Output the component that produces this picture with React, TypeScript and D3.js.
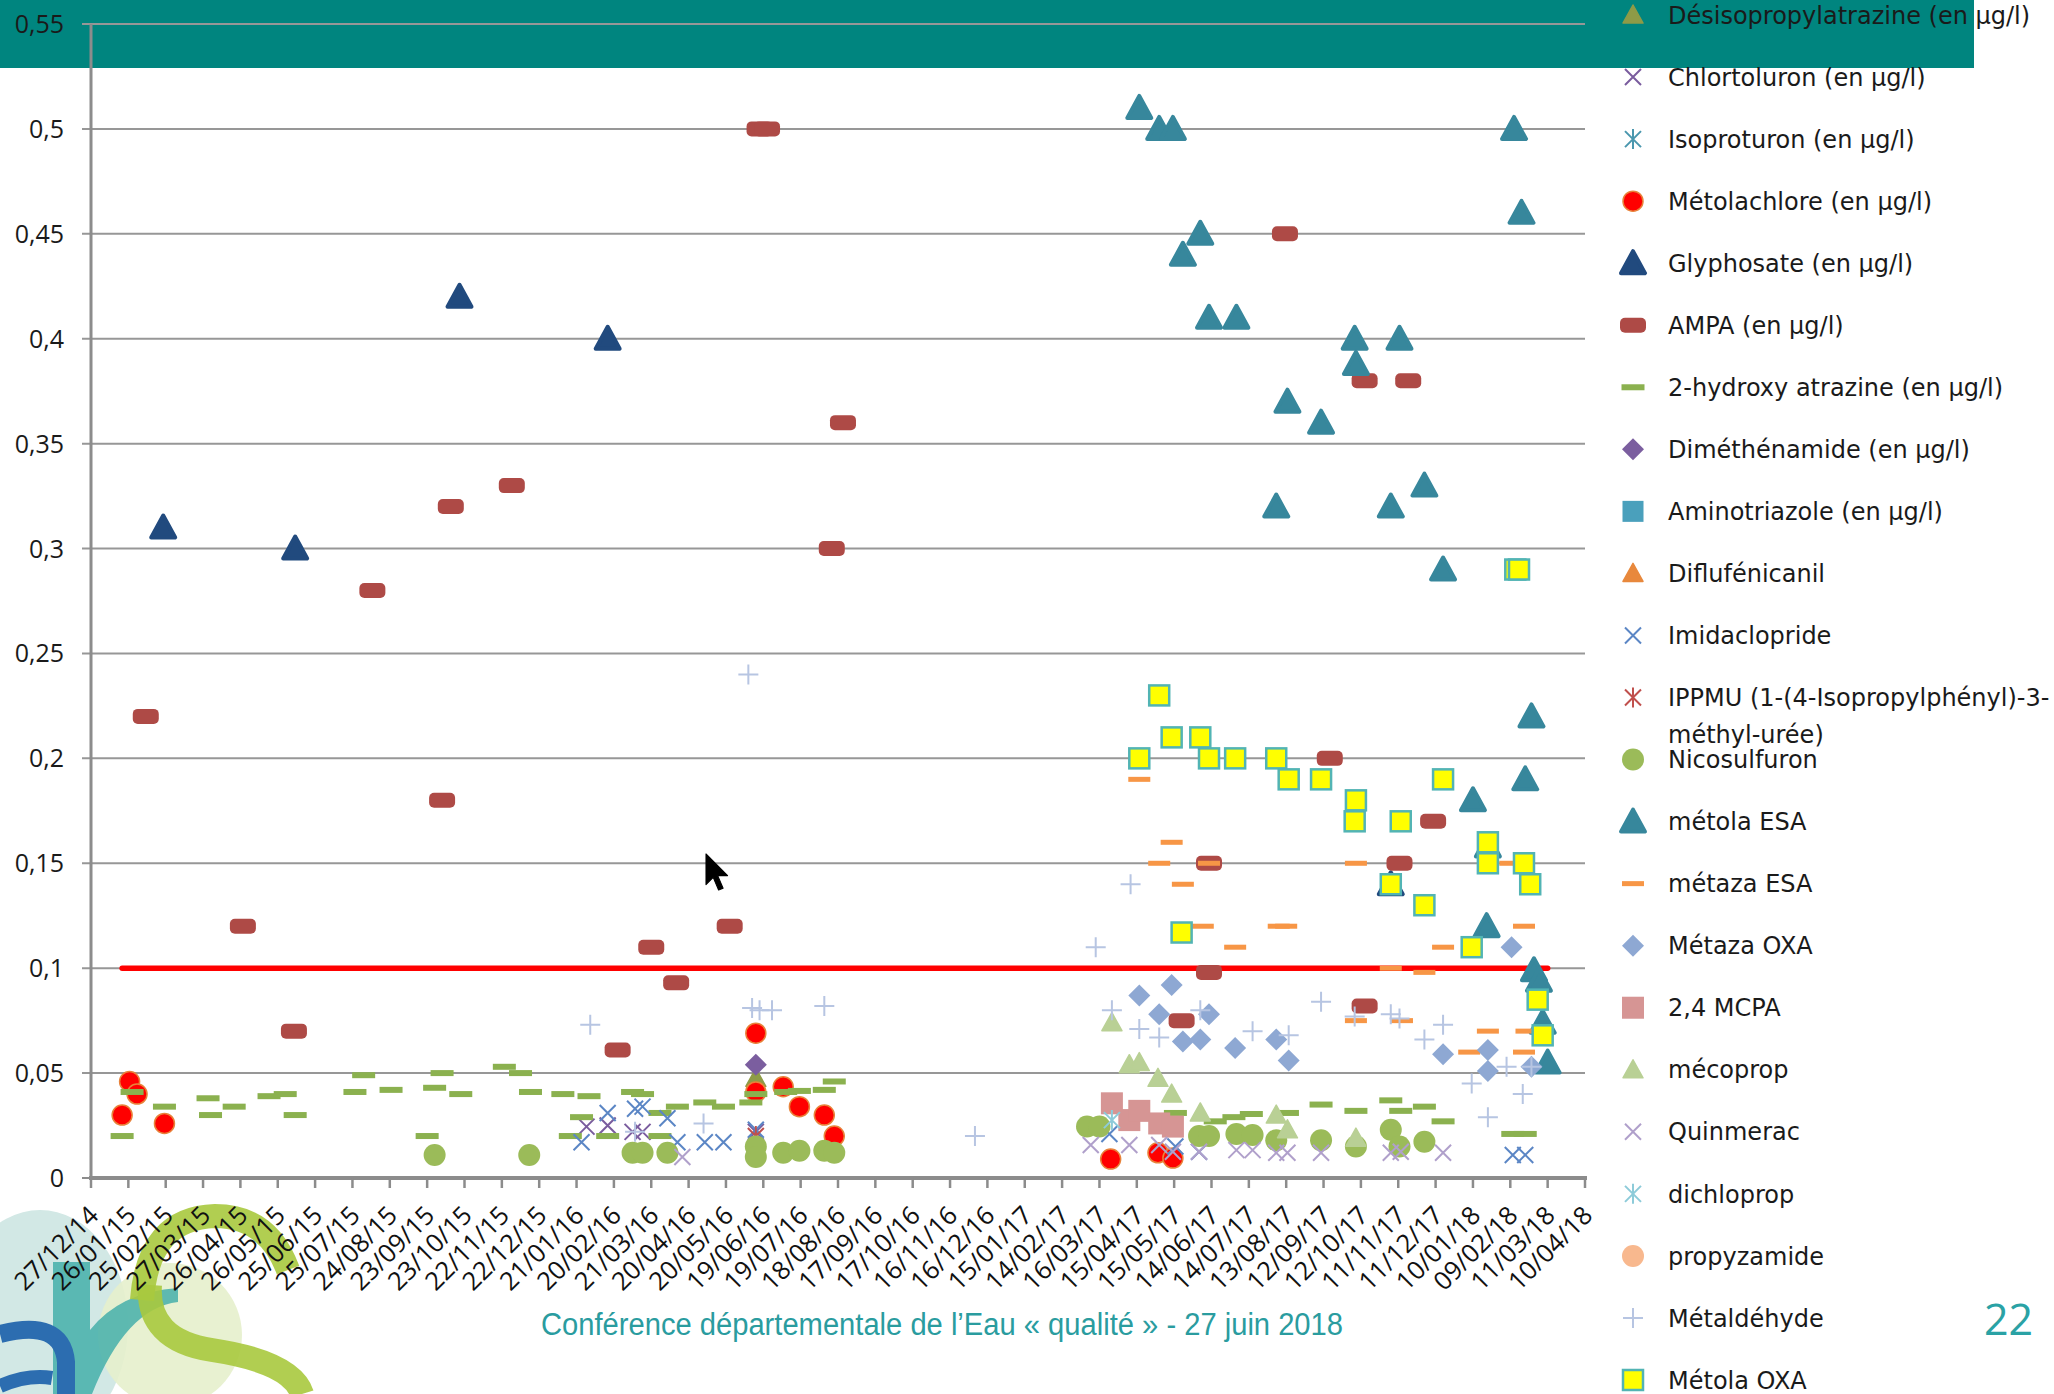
import React from "react";
import * as d3 from "d3";

// ---------- page & axis setup ----------
const W = 2054;
const H = 1394;
const ORIGIN = new Date(2014, 11, 27); // 27/12/14, first tick of the date axis
const AXIS_SPAN_DAYS = 1200;
const TICK_STEP_DAYS = 30;
const Y_TICKS = [0, 0.05, 0.1, 0.15, 0.2, 0.25, 0.3, 0.35, 0.4, 0.45, 0.5, 0.55];

// ---------- data: [day counted from 27/12/2014, value in µg/l] ----------
const limite = [[25, 0.1], [1170, 0.1]];
const desisopropylatrazine = [[534, 0.0475]];
const chlortoluron = [[398, 0.0245], [415, 0.025], [435, 0.022], [443, 0.022], [534, 0.022]];
const isoproturon: number[][] = [];
const metolachlore = [
  [25, 0.03], [31, 0.046], [37, 0.04], [59, 0.026], [534, 0.069], [534, 0.041], [556, 0.0435],
  [569, 0.034], [589, 0.03], [597, 0.02], [819, 0.009], [857, 0.012], [869, 0.0095],
];
const glyphosate = [[58, 0.31], [164, 0.3], [296, 0.42], [415, 0.4], [1044, 0.14]];
const ampa = [
  [44, 0.22], [122, 0.12], [163, 0.07], [226, 0.28], [282, 0.18], [289, 0.32], [338, 0.33],
  [423, 0.061], [450, 0.11], [470, 0.093], [513, 0.12], [537, 0.5], [543, 0.5], [595, 0.3],
  [604, 0.36], [876, 0.075], [898, 0.15], [898, 0.098], [959, 0.45], [995, 0.2], [1023, 0.38],
  [1023, 0.082], [1051, 0.15], [1058, 0.38], [1078, 0.17],
];
const hydroxyAtrazine = [
  [25, 0.02], [33, 0.041], [59, 0.034], [94, 0.038], [96, 0.03], [115, 0.034], [143, 0.039],
  [156, 0.04], [164, 0.03], [212, 0.041], [219, 0.049], [241, 0.042], [270, 0.02], [276, 0.043],
  [282, 0.05], [297, 0.04], [332, 0.053], [345, 0.05], [353, 0.041], [379, 0.04], [385, 0.02],
  [394, 0.029], [400, 0.039], [415, 0.02], [435, 0.041], [443, 0.04], [457, 0.031], [457, 0.02],
  [471, 0.034], [493, 0.036], [508, 0.034], [530, 0.036], [534, 0.04], [558, 0.041], [569, 0.0415],
  [589, 0.042], [597, 0.046], [871, 0.031], [903, 0.027], [918, 0.029], [932, 0.0305], [961, 0.031],
  [988, 0.035], [1016, 0.032], [1044, 0.037], [1052, 0.032], [1071, 0.034], [1086, 0.027],
  [1142, 0.021], [1152, 0.021],
];
const dimethenamide = [[534, 0.054]];
const aminotriazole: number[][] = [];
const diflufenicanil: number[][] = [];
const imidaclopride = [
  [394, 0.017], [415, 0.031], [437, 0.033], [443, 0.034], [463, 0.0285], [471, 0.017], [493, 0.017],
  [508, 0.017], [534, 0.023], [818, 0.021], [871, 0.015], [890, 0.0125], [1142, 0.011], [1152, 0.011],
];
const ippmu = [[534, 0.02]];
const nicosulfuron = [
  [276, 0.011], [352, 0.011], [435, 0.012], [443, 0.012], [463, 0.012], [534, 0.015], [534, 0.01],
  [556, 0.012], [569, 0.013], [589, 0.013], [597, 0.012], [800, 0.0245], [810, 0.0245], [890, 0.02],
  [898, 0.02], [920, 0.021], [933, 0.0205], [952, 0.018], [988, 0.018], [1016, 0.015], [1044, 0.023],
  [1051, 0.015], [1071, 0.0173],
];
const metolaESA = [
  [842, 0.51], [858, 0.5], [869, 0.5], [877, 0.44], [891, 0.45], [898, 0.41], [920, 0.41], [952, 0.32],
  [961, 0.37], [988, 0.36], [1015, 0.4], [1016, 0.388], [1044, 0.32], [1051, 0.4], [1071, 0.33],
  [1086, 0.29], [1110, 0.18], [1121, 0.12], [1122, 0.158], [1143, 0.5], [1149, 0.46], [1152, 0.19],
  [1157, 0.22], [1159, 0.099], [1163, 0.094], [1166, 0.074], [1170, 0.055],
];
const metazaESA = [
  [842, 0.19], [858, 0.15], [868, 0.16], [877, 0.14], [893, 0.12], [898, 0.15], [919, 0.11],
  [954, 0.12], [960, 0.12], [1016, 0.15], [1016, 0.075], [1044, 0.1], [1053, 0.075], [1071, 0.098],
  [1086, 0.11], [1107, 0.06], [1122, 0.07], [1140, 0.15], [1151, 0.12], [1151, 0.06], [1153, 0.07],
];
const metazaOXA = [
  [842, 0.087], [858, 0.078], [868, 0.092], [877, 0.065], [891, 0.066], [898, 0.078], [919, 0.062],
  [952, 0.066], [962, 0.056], [1086, 0.059], [1122, 0.061], [1122, 0.051], [1141, 0.11], [1157, 0.053],
];
const mcpa = [[820, 0.0356], [834, 0.0276], [842, 0.032], [858, 0.026], [869, 0.0245]];
const mecoprop = [
  [820, 0.074], [834, 0.054], [842, 0.055], [857, 0.0475], [868, 0.04], [891, 0.031], [952, 0.03],
  [961, 0.023], [1016, 0.019],
];
const quinmerac = [
  [475, 0.01], [803, 0.0157], [834, 0.0157], [858, 0.0157], [869, 0.0125], [890, 0.0125], [920, 0.0133],
  [933, 0.0133], [952, 0.012], [961, 0.012], [988, 0.012], [1044, 0.012], [1052, 0.0125], [1086, 0.012],
];
const dichloprop = [[820, 0.0276]];
const propyzamide: number[][] = [];
const metaldehyde = [
  [401, 0.073], [437, 0.022], [492, 0.026], [528, 0.24], [531, 0.081], [537, 0.08], [547, 0.08],
  [589, 0.082], [710, 0.02], [807, 0.11], [820, 0.08], [835, 0.14], [842, 0.071], [858, 0.067],
  [891, 0.08], [933, 0.07], [962, 0.068], [988, 0.084], [1015, 0.077], [1044, 0.078], [1051, 0.076],
  [1071, 0.066], [1086, 0.073], [1109, 0.045], [1122, 0.029], [1137, 0.053], [1150, 0.04], [1157, 0.053],
];
const metolaOXA = [
  [842, 0.2], [858, 0.23], [868, 0.21], [876, 0.117], [891, 0.21], [898, 0.2], [919, 0.2], [952, 0.2],
  [962, 0.19], [988, 0.19], [1015, 0.17], [1016, 0.18], [1044, 0.14], [1052, 0.17], [1071, 0.13],
  [1086, 0.19], [1109, 0.11], [1122, 0.16], [1122, 0.15], [1144, 0.29], [1147, 0.29], [1151, 0.15],
  [1156, 0.14], [1162, 0.085], [1166, 0.068],
];

// ---------- series styling ----------
type Series = { name: string[]; data: number[][]; shape: string; fill: string; stroke: string };
const SERIES: Series[] = [
  { name: ["Désisopropylatrazine (en µg/l)"], data: desisopropylatrazine, shape: "triS", fill: "#8E9B47", stroke: "#8E9B47" },
  { name: ["Chlortoluron (en µg/l)"], data: chlortoluron, shape: "x", fill: "none", stroke: "#7A5C9E" },
  { name: ["Isoproturon (en µg/l)"], data: isoproturon, shape: "star", fill: "none", stroke: "#4A97AE" },
  { name: ["Métolachlore (en µg/l)"], data: metolachlore, shape: "circle", fill: "#FF0000", stroke: "#E8823A" },
  { name: ["Glyphosate (en µg/l)"], data: glyphosate, shape: "triB", fill: "#214A7E", stroke: "#214A7E" },
  { name: ["AMPA (en µg/l)"], data: ampa, shape: "pill", fill: "#AE4A46", stroke: "#AE4A46" },
  { name: ["2-hydroxy atrazine (en µg/l)"], data: hydroxyAtrazine, shape: "dashG", fill: "#8BB14F", stroke: "none" },
  { name: ["Diméthénamide (en µg/l)"], data: dimethenamide, shape: "diamond", fill: "#7B5E9F", stroke: "#7B5E9F" },
  { name: ["Aminotriazole (en µg/l)"], data: aminotriazole, shape: "square", fill: "#4AA0BC", stroke: "#4AA0BC" },
  { name: ["Diflufénicanil"], data: diflufenicanil, shape: "triS", fill: "#E8883C", stroke: "#E8883C" },
  { name: ["Imidaclopride"], data: imidaclopride, shape: "x", fill: "none", stroke: "#5B86C5" },
  { name: ["IPPMU (1-(4-Isopropylphényl)-3-", "méthyl-urée)"], data: ippmu, shape: "star", fill: "none", stroke: "#C0504D" },
  { name: ["Nicosulfuron"], data: nicosulfuron, shape: "circleG", fill: "#9BBB59", stroke: "#9BBB59" },
  { name: ["métola ESA"], data: metolaESA, shape: "triB", fill: "#37879C", stroke: "#37879C" },
  { name: ["métaza ESA"], data: metazaESA, shape: "dashO", fill: "#F79646", stroke: "none" },
  { name: ["Métaza OXA"], data: metazaOXA, shape: "diamond", fill: "#8EA8D3", stroke: "#8EA8D3" },
  { name: ["2,4 MCPA"], data: mcpa, shape: "squareP", fill: "#D69594", stroke: "#D69594" },
  { name: ["mécoprop"], data: mecoprop, shape: "triS", fill: "#B9D095", stroke: "#B9D095" },
  { name: ["Quinmerac"], data: quinmerac, shape: "x", fill: "none", stroke: "#B0A0CB" },
  { name: ["dichloprop"], data: dichloprop, shape: "star", fill: "none", stroke: "#8DCBD9" },
  { name: ["propyzamide"], data: propyzamide, shape: "circleG", fill: "#F8B88E", stroke: "#F8B88E" },
  { name: ["Métaldéhyde"], data: metaldehyde, shape: "plus", fill: "none", stroke: "#B7C5E2" },
  { name: ["Métola OXA"], data: metolaOXA, shape: "squareY", fill: "#FFFF00", stroke: "#52B4B4" },
];

function Marker({ shape, fill, stroke }: { shape: string; fill: string; stroke: string }) {
  switch (shape) {
    case "triB":
      return <path d="M0,-12L12,10L-12,10Z" fill={fill} stroke={stroke} strokeWidth={4} strokeLinejoin="round" />;
    case "triS":
      return <path d="M0,-10L10,8L-10,8Z" fill={fill} stroke={stroke} strokeWidth={1.5} strokeLinejoin="round" />;
    case "pill":
      return <rect x={-13} y={-7.5} width={26} height={15} rx={5} fill={fill} />;
    case "dashG":
      return <rect x={-11.5} y={-3} width={23} height={6} fill={fill} />;
    case "dashO":
      return <rect x={-11} y={-2.5} width={22} height={5} fill={fill} />;
    case "circle":
      return <circle r={10} fill={fill} stroke={stroke} strokeWidth={1.5} />;
    case "circleG":
      return <circle r={11} fill={fill} />;
    case "diamond":
      return <path d="M0,-11L11,0L0,11L-11,0Z" fill={fill} />;
    case "square":
      return <rect x={-10.5} y={-10.5} width={21} height={21} fill={fill} />;
    case "squareP":
      return <rect x={-11} y={-11} width={22} height={22} fill={fill} />;
    case "squareY":
      return <rect x={-10} y={-10} width={20} height={20} fill={fill} stroke={stroke} strokeWidth={2.5} />;
    case "x":
      return <path d="M-8,-8L8,8M-8,8L8,-8" fill="none" stroke={stroke} strokeWidth={2} />;
    case "star":
      return <path d="M-8,-8L8,8M-8,8L8,-8M0,-10V10" fill="none" stroke={stroke} strokeWidth={2} />;
    case "plus":
      return <path d="M-10,0H10M0,-10V10" fill="none" stroke={stroke} strokeWidth={2} />;
    default:
      return null;
  }
}

export default function App() {
  const day = (d: number) => d3.timeDay.offset(ORIGIN, d);
  const x = d3.scaleTime().domain([ORIGIN, day(AXIS_SPAN_DAYS)]).range([91, 1585]);
  const y = d3.scaleLinear().domain([0, 0.55]).range([1178, 24]);
  const ticks = d3.range(0, AXIS_SPAN_DAYS + 1, TICK_STEP_DAYS).map(day);
  const fmtDate = d3.timeFormat("%d/%m/%y");
  const fmtY = (v: number) => (v === 0 ? "0" : d3.format(".2~f")(v).replace(".", ","));
  const line = d3.line<number[]>().x((d) => x(day(d[0]))).y((d) => y(d[1]));

  const legendY0 = 15;
  const legendStep = (1380 - legendY0) / (SERIES.length - 1);

  return (
    <svg width={W} height={H} style={{ position: "absolute", left: 0, top: 0, display: "block", background: "#fff" }}>
      {/* banner */}
      <rect x={0} y={0} width={1974} height={68} fill="#00857F" />

      {/* logo */}
      <g>
        <ellipse cx={40} cy={1325} rx={88} ry={115} fill="#D2E8E5" />
        <circle cx={170} cy={1335} r={72} fill="#E6F0CC" opacity={0.9} />
        <path d="M53,1394 L53,1262 L90,1262 L90,1330 Q120,1292 178,1288 L178,1302 Q126,1308 92,1394 Z" fill="#45AFAA" opacity={0.85} />
        <path d="M0,1334 Q62,1318 66,1362 L66,1394" fill="none" stroke="#2C6DB0" strokeWidth={18} />
        <path d="M0,1386 Q28,1374 52,1378" fill="none" stroke="#2C6DB0" strokeWidth={14} />
        <path d="M142,1300 Q148,1218 215,1216 Q268,1216 288,1270" fill="none" stroke="#A9C93E" strokeWidth={24} opacity={0.9} />
        <path d="M150,1285 Q146,1340 212,1350 Q292,1362 302,1394" fill="none" stroke="#A9C93E" strokeWidth={24} opacity={0.9} />
      </g>

      {/* gridlines */}
      {Y_TICKS.filter((t) => t > 0).map((t) => (
        <line key={"g" + t} x1={82} x2={1585} y1={y(t)} y2={y(t)} stroke="#979797" strokeWidth={2} />
      ))}
      <line x1={82} x2={91} y1={y(0)} y2={y(0)} stroke="#8C8C8C" strokeWidth={2} />

      {/* y axis labels */}
      {Y_TICKS.map((t) => (
        <text key={"yl" + t} x={64} y={y(t)} dy="0.36em" textAnchor="end" fontFamily="Open Sans" fontSize={25} fill="#1a1a1a">
          {fmtY(t)}
        </text>
      ))}

      {/* axes */}
      <line x1={91} x2={91} y1={y(0.55)} y2={y(0)} stroke="#8C8C8C" strokeWidth={3} />
      <line x1={89} x2={1587} y1={y(0)} y2={y(0)} stroke="#8C8C8C" strokeWidth={4} />
      {ticks.map((t, i) => (
        <line key={"xt" + i} x1={x(t)} x2={x(t)} y1={y(0)} y2={y(0) + 10} stroke="#8C8C8C" strokeWidth={2.5} />
      ))}
      {ticks.map((t, i) => (
        <text
          key={"xl" + i}
          transform={`translate(${x(t) + 9},${1217}) rotate(-45)`}
          textAnchor="end"
          fontFamily="Open Sans"
          fontSize={25.5}
          fill="#111"
        >
          {fmtDate(t)}
        </text>
      ))}

      {/* limit line */}
      <path d={line(limite) || ""} fill="none" stroke="#FF0000" strokeWidth={5.5} strokeLinecap="round" />

      {/* series */}
      {SERIES.map((s, si) => (
        <g key={"s" + si}>
          {s.data.map((d, i) => (
            <g key={i} transform={`translate(${x(day(d[0]))},${y(d[1])})`}>
              <Marker shape={s.shape} fill={s.fill} stroke={s.stroke} />
            </g>
          ))}
        </g>
      ))}

      {/* legend */}
      {SERIES.map((s, i) => {
        const cy = legendY0 + i * legendStep;
        return (
          <g key={"lg" + i}>
            <g transform={`translate(1633,${cy})`}>
              <Marker shape={s.shape} fill={s.fill} stroke={s.stroke} />
            </g>
            {s.name.map((ln, j) => (
              <text key={j} x={1668} y={cy + j * 37} dy="0.36em" fontFamily="DejaVu Sans" fontSize={24} fill="#1a1a1a">
                {ln}
              </text>
            ))}
          </g>
        );
      })}

      {/* footer */}
      <text x={541} y={1335} fontFamily="Liberation Sans" fontSize={31} fill="#2A9C9F" textLength={802} lengthAdjust="spacingAndGlyphs">
        Conférence départementale de l’Eau « qualité » - 27 juin 2018
      </text>
      <text x={1984} y={1335} fontFamily="Open Sans" fontSize={43} fill="#2AA2A5">
        22
      </text>

      {/* mouse cursor */}
      <path
        transform="translate(706,854) scale(1.8)"
        d="M0,0 L0,17 L4,13 L7,20 L9.5,19 L6.5,12 L12,12 Z"
        fill="#000"
        stroke="#000"
        strokeWidth={0.6}
        strokeLinejoin="round"
      />
    </svg>
  );
}
